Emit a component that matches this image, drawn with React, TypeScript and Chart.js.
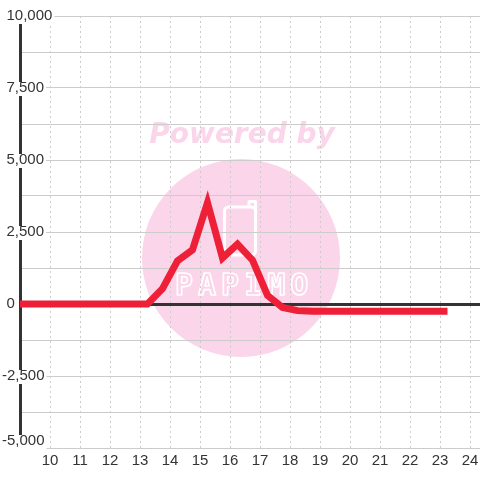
import React, { useEffect, useRef } from 'react';
import { Chart, registerables } from 'chart.js';

Chart.register(...registerables);

// ---- data ----
const xValues = [
  8.75, 9.25, 9.75, 10.25, 10.75, 11.25, 11.75, 12.25, 12.75, 13.25,
  13.75, 14.25, 14.75, 15.25, 15.75, 16.25, 16.75, 17.25, 17.75, 18.25,
  18.75, 19.25, 19.75, 20.25, 20.75, 21.25, 21.75, 22.25, 22.75, 23.25,
];
const yValues = [
  0, 0, 0, 0, 0, 0, 0, 0, 0, 0,
  530, 1500, 1880, 3520, 1600, 2080, 1520, 300, -120, -230,
  -250, -250, -250, -250, -250, -250, -250, -250, -250, -250,
];
const xTickValues = [10, 11, 12, 13, 14, 15, 16, 17, 18, 19, 20, 21, 22, 23, 24];
const yMin = -5000;
const yMax = 10000;
const yGridStep = 1250;
const yLabelStep = 2500;
const xMin = 9;
const xMax = 24 + 1 / 3;

const FONT = "'Liberation Sans', Arial, sans-serif";
const TEXT = '#333333';
const GRID = '#cccccc';
const RED = '#ee2038';
const PINK = '#fbd5ea';

const fmt = (v: number) => {
  const s = Math.abs(v).toString().replace(/\B(?=(\d{3})+(?!\d))/g, ',');
  return v < 0 ? '-' + s : s;
};

const watermarkPlugin = {
  id: 'watermark',
  beforeDraw(chart: any) {
    const ctx = chart.ctx as CanvasRenderingContext2D;
    ctx.save();
    ctx.fillStyle = PINK;
    ctx.beginPath();
    ctx.arc(241, 258, 99, 0, Math.PI * 2);
    ctx.fill();
    ctx.font = "italic bold 28px 'DejaVu Sans'";
    ctx.textAlign = 'center';
    ctx.textBaseline = 'alphabetic';
    ctx.fillText('Powered by', 242, 143);
    ctx.strokeStyle = '#ffffff';
    ctx.lineWidth = 3;
    ctx.lineJoin = 'round';
    ctx.beginPath();
    (ctx as any).roundRect ? (ctx as any).roundRect(224.5, 207, 31, 48, 4) : ctx.rect(224.5, 207, 31, 48);
    ctx.stroke();
    ctx.beginPath();
    ctx.moveTo(249, 207);
    ctx.lineTo(249, 201.5);
    ctx.lineTo(255.5, 201.5);
    ctx.lineTo(255.5, 211);
    ctx.stroke();
    ctx.font = "bold 30px 'DejaVu Sans Mono'";
    (ctx as any).letterSpacing = '5px';
    ctx.textAlign = 'left';
    ctx.lineWidth = 1.6;
    ctx.strokeText('PAPIMO', 175, 295);
    (ctx as any).letterSpacing = '0px';
    ctx.restore();
  },
};

const labelAdjustPlugin = {
  id: 'labelAdjust',
  beforeDraw(chart: any) {
    const ys = chart.scales && chart.scales.y;
    if (!ys || typeof ys.getLabelItems !== 'function') return;
    const items = ys.getLabelItems(chart.chartArea);
    if (!items) return;
    for (const it of items) {
      if (it._adj) continue;
      const o = it.options || it;
      const tr = o.translation;
      if (!tr) continue;
      const lab = String(it.label);
      if (lab.startsWith('-')) tr[0] -= 4.5;
      if (lab === fmt(yMin)) tr[1] -= 7;
      it._adj = true;
    }
  },
};

export default function App() {
  const ref = useRef<HTMLCanvasElement>(null);

  useEffect(() => {
    const canvas = ref.current;
    if (!canvas) return;
    const chart = new Chart(canvas, {
      type: 'line',
      data: {
        datasets: [
          {
            data: xValues.map((x, i) => ({ x, y: yValues[i] })),
            borderColor: RED,
            backgroundColor: RED,
            borderWidth: 7,
            pointRadius: 0,
            pointHoverRadius: 0,
            tension: 0,
            fill: false,
            borderJoinStyle: 'miter',
            borderCapStyle: 'butt',
          },
        ],
      },
      options: {
        animation: false,
        responsive: false,
        devicePixelRatio: 1,
        events: [],
        layout: { padding: { left: 20, top: 16, right: 0, bottom: 0 } },
        plugins: { legend: { display: false }, tooltip: { enabled: false } },
        scales: {
          x: {
            type: 'linear',
            min: xMin,
            max: xMax,
            afterBuildTicks: (s: any) => {
              s.ticks = xTickValues.map((v) => ({ value: v }));
            },
            afterFit: (s: any) => {
              s.height = 32;
              s.paddingLeft = 0;
              s.paddingRight = 0;
            },
            grid: { color: GRID, lineWidth: 1, drawTicks: false },
            border: { display: false, dash: [2, 3] },
            ticks: {
              color: TEXT,
              font: { family: FONT, size: 15 },
              padding: 4,
              autoSkip: false,
              maxRotation: 0,
              callback: (v: any) => String(v),
            },
          },
          y: {
            type: 'linear',
            position: 'left',
            min: yMin,
            max: yMax,
            afterFit: (s: any) => {
              s.width = 0;
              s.paddingTop = 0;
              s.paddingBottom = 0;
            },
            grid: {
              color: (c: any) => (c.tick && c.tick.value === 0 ? '#333333' : GRID),
              lineWidth: (c: any) => (c.tick && c.tick.value === 0 ? 3 : 1),
              drawTicks: false,
            },
            border: { display: true, color: '#333333', width: 3 },
            ticks: {
              stepSize: yGridStep,
              mirror: true,
              padding: -13.5,
              crossAlign: 'near',
              z: 1,
              autoSkip: false,
              color: TEXT,
              font: { family: FONT, size: 15 },
              showLabelBackdrop: true,
              backdropColor: (c: any) =>
                c.tick && c.tick.value % yLabelStep === 0 ? '#ffffff' : 'rgba(0,0,0,0)',
              backdropPadding: { top: -3, bottom: -1, left: 2, right: 2 },
              callback: (v: any) => (Number(v) % yLabelStep === 0 ? fmt(Number(v)) : ''),
            },
          },
        },
      } as any,
      plugins: [watermarkPlugin, labelAdjustPlugin],
    });
    return () => chart.destroy();
  }, []);

  return (
    <div
      style={{
        position: 'fixed',
        left: 0,
        top: 0,
        width: 480,
        height: 480,
        background: '#ffffff',
      }}
    >
      <canvas
        ref={ref}
        width={480}
        height={480}
        style={{ display: 'block', width: 480, height: 480 }}
      />
    </div>
  );
}
